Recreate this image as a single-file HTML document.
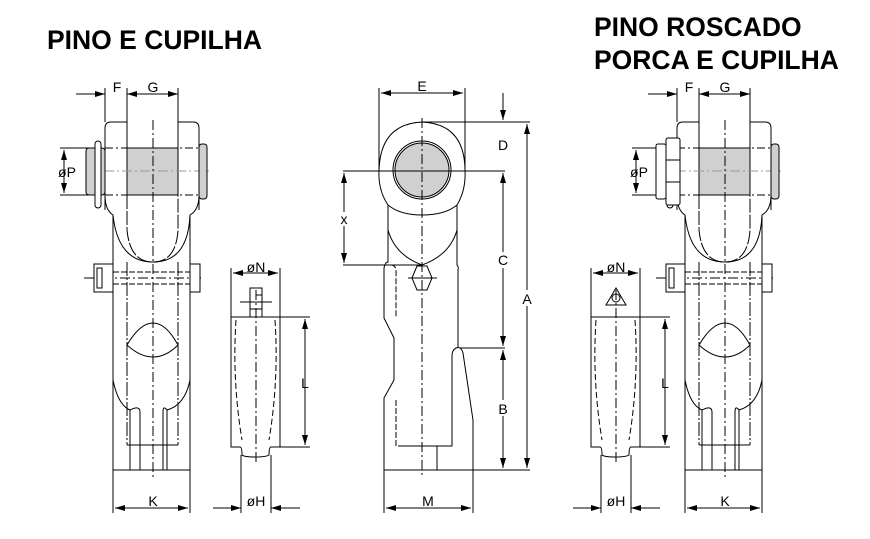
<!DOCTYPE html>
<html><head><meta charset="utf-8"><style>
html,body{margin:0;padding:0;background:#fff;width:870px;height:539px;overflow:hidden}
svg{display:block}
text{font-family:"Liberation Sans",Arial,sans-serif}
.t{font-weight:bold;font-size:26.5px;fill:#000}
.l{font-size:14px;fill:#000;text-anchor:middle}
</style></head><body>
<svg width="870" height="539" viewBox="0 0 870 539">
<defs>
<marker id="a" viewBox="0 0 10 6" refX="10" refY="3" markerWidth="10" markerHeight="6" orient="auto-start-reverse" markerUnits="userSpaceOnUse"><path d="M0,0L10,3L0,6z" fill="#000"/></marker>
<g id="shackle" fill="none" stroke="#000" stroke-width="1">
  <line x1="105" y1="88" x2="105" y2="122"/><line x1="127" y1="88" x2="127" y2="122"/><line x1="178" y1="88" x2="178" y2="122"/>
  <line x1="76" y1="94" x2="105" y2="94" marker-end="url(#a)"/>
  <line x1="127" y1="94" x2="178" y2="94" marker-start="url(#a)" marker-end="url(#a)"/>
  <line x1="60" y1="148" x2="100" y2="148"/><line x1="60" y1="195" x2="100" y2="195"/>
  <line x1="64" y1="150" x2="64" y2="193" marker-start="url(#a)" marker-end="url(#a)"/>
  <path d="M105,210 V128 Q105,122 111,122 H127 V195"/>
  <path d="M199,210 V128 Q199,122 193,122 H178 V195"/>
  <rect x="127" y="148" width="51" height="47" fill="#d0d0d0"/>
  <line x1="105" y1="148" x2="199" y2="148" stroke-dasharray="8,3,2,3"/>
  <line x1="105" y1="195" x2="199" y2="195" stroke-dasharray="8,3,2,3"/>
  <line x1="86" y1="171" x2="212" y2="171" stroke="#999" stroke-dasharray="10,3,2,3"/>
  <rect x="86" y="148" width="19" height="47" rx="3" fill="#d0d0d0"/>
  <rect x="199" y="144" width="8" height="55" rx="3" fill="#d0d0d0"/>
  <rect x="95" y="141" width="6" height="67" rx="3" fill="#fff"/>
  <path d="M105,195 Q105,210 113,215 V470 H190 V215 Q199,210 199,195"/>
  <path d="M113,215 Q118,262 153,262 Q188,262 190,215"/>
  <path d="M127,195 V230 Q130,262 153,262 Q176,262 178,230 V195" stroke-dasharray="14,2"/>
  <line x1="127" y1="262" x2="127" y2="445" stroke-dasharray="14,2,2,2"/>
  <line x1="178" y1="262" x2="178" y2="445" stroke-dasharray="14,2,2,2"/>
  <path d="M127,345 Q140,323 153,323 Q166,323 178,345 Q166,357 153,357 Q140,357 127,345"/>
  <path d="M113,380 Q118,405 130,410 V470"/><path d="M190,380 Q185,405 167,410 V470"/>
  <path d="M130,410 Q140,405 140,412 V470"/><path d="M167,410 Q163,405 163,412 V470"/>
  <line x1="127" y1="445" x2="178" y2="445"/>
  <line x1="84" y1="278" x2="201" y2="278" stroke-dasharray="10,3,2,3"/>
  <line x1="113" y1="272" x2="190" y2="272" stroke-dasharray="6,2"/><line x1="113" y1="284" x2="190" y2="284" stroke-dasharray="6,2"/>
  <rect x="94" y="264" width="19" height="28" fill="#fff"/><rect x="97" y="268" width="5" height="20"/>
  <rect x="190" y="264" width="10" height="28" fill="#fff"/>
  <line x1="153" y1="120" x2="153" y2="478" stroke-dasharray="10,3,2,3"/>
  <line x1="113" y1="470" x2="113" y2="513"/><line x1="190" y1="470" x2="190" y2="513"/>
  <line x1="115" y1="508" x2="188" y2="508" marker-start="url(#a)" marker-end="url(#a)"/>
</g>
<g id="pin" fill="none" stroke="#000" stroke-width="1">
  <line x1="231" y1="268" x2="231" y2="317"/><line x1="280" y1="268" x2="280" y2="317"/>
  <line x1="233" y1="273" x2="278" y2="273" marker-start="url(#a)" marker-end="url(#a)"/>
  <path d="M231,317 H280 V447 H271 Q269,447 269,455 Q266,457 256,457 Q244,457 242,455 Q242,447 240,447 H231 Z"/>
  <path d="M236,320 Q232,380 242,440" stroke-dasharray="6,3"/><path d="M275,320 Q279,380 269,440" stroke-dasharray="6,3"/>
  <line x1="256" y1="290" x2="256" y2="465" stroke-dasharray="10,3,2,3"/>
  <line x1="280" y1="317" x2="310" y2="317"/><line x1="280" y1="447" x2="310" y2="447"/>
  <line x1="305" y1="319" x2="305" y2="445" marker-start="url(#a)" marker-end="url(#a)"/>
  <line x1="241" y1="455" x2="241" y2="513"/><line x1="271" y1="455" x2="271" y2="513"/>
  <line x1="213" y1="508" x2="241" y2="508" marker-end="url(#a)"/>
  <line x1="300" y1="508" x2="271" y2="508" marker-end="url(#a)"/>
</g>
</defs>

<text class="t" x="47" y="49">PINO E CUPILHA</text>
<text class="t" x="594" y="36">PINO ROSCADO</text>
<text class="t" x="594" y="69">PORCA E CUPILHA</text>

<use href="#shackle"/>
<use href="#pin"/>
<g stroke="#000" fill="none"><rect x="250" y="288" width="12" height="29"/><line x1="240" y1="302" x2="272" y2="302"/><line x1="256" y1="295" x2="262" y2="295"/><line x1="250" y1="309" x2="262" y2="309"/></g>
<text class="l" x="117" y="92">F</text><text class="l" x="153" y="92">G</text>
<text class="l" x="67" y="177">øP</text>
<text class="l" x="153" y="506">K</text>
<text class="l" x="256" y="272">øN</text>
<text class="l" x="305" y="388">L</text>
<text class="l" x="256" y="506">øH</text>

<g transform="translate(572,0)"><use href="#shackle"/></g>
<rect x="656" y="144" width="10" height="55" rx="2" fill="#fff" stroke="#000"/>
<rect x="666" y="138" width="14" height="67" rx="2" fill="#fff" stroke="#000"/>
<line x1="666" y1="160" x2="680" y2="160" stroke="#000"/><line x1="666" y1="182" x2="680" y2="182" stroke="#000"/>
<g transform="translate(360,0)"><use href="#pin"/></g>
<g stroke="#000" fill="none"><path d="M606,305 L616,288 L626,305 Z"/><circle cx="616" cy="298" r="4"/></g>
<text class="l" x="689" y="92">F</text><text class="l" x="725" y="92">G</text>
<text class="l" x="639" y="177">øP</text>
<text class="l" x="725" y="506">K</text>
<text class="l" x="616" y="272">øN</text>
<text class="l" x="665" y="388">L</text>
<text class="l" x="616" y="506">øH</text>

<g fill="none" stroke="#000" stroke-width="1">
  <line x1="379" y1="88" x2="379" y2="171"/><line x1="465" y1="88" x2="465" y2="171"/>
  <line x1="381" y1="93" x2="463" y2="93" marker-start="url(#a)" marker-end="url(#a)"/>
  <path d="M388,205 Q378,190 379,171 Q380,124 422,122 Q465,124 465,171 Q466,190 457,205"/>
  <path d="M388,205 Q400,215 422,215 Q445,215 457,205"/>
  <circle cx="422" cy="170" r="29"/><circle cx="422" cy="170" r="27" fill="#d0d0d0"/>
  <path d="M388,205 V262 Q385,262 384,268 V318 L394,338 V380 L384,398 V470 H473 V420 L463,353 Q461,346 456,348 Q452,350 452,356 V446 H398"/>
  <path d="M388,230 Q395,255 422,265 Q450,255 457,230"/>
  <path d="M457,205 V265 Q459,267 458,270 V348" />
  <path d="M391,265 Q397,265 396,275 V318" stroke-dasharray="6,2"/>
  <path d="M396,400 V446 H452" stroke-dasharray="6,2"/>
  <line x1="437" y1="446" x2="437" y2="470"/>
  <path d="M412,278 L417,266 H427 L432,278 L427,290 H417 Z" fill="#fff"/>
  <line x1="408" y1="278" x2="437" y2="278"/>
  <line x1="422" y1="118" x2="422" y2="478" stroke-dasharray="10,3,2,3"/>
  <line x1="343" y1="171" x2="505" y2="171"/>
  <line x1="343" y1="265" x2="422" y2="265"/>
  <line x1="344" y1="173" x2="344" y2="263" marker-start="url(#a)" marker-end="url(#a)"/>
  <line x1="422" y1="122" x2="530" y2="122"/>
  <line x1="460" y1="348" x2="505" y2="348"/>
  <line x1="473" y1="470" x2="530" y2="470"/>
  <line x1="503" y1="93" x2="503" y2="120" marker-end="url(#a)"/>
  <line x1="503" y1="173" x2="503" y2="346" marker-start="url(#a)" marker-end="url(#a)"/>
  <line x1="503" y1="350" x2="503" y2="468" marker-start="url(#a)" marker-end="url(#a)"/>
  <line x1="527" y1="124" x2="527" y2="468" marker-start="url(#a)" marker-end="url(#a)"/>
  <line x1="384" y1="470" x2="384" y2="513"/><line x1="473" y1="470" x2="473" y2="513"/>
  <line x1="386" y1="508" x2="471" y2="508" marker-start="url(#a)" marker-end="url(#a)"/>
</g>
<g fill="#fff"><rect x="497" y="137" width="12" height="16"/><rect x="497" y="252" width="12" height="16"/><rect x="497" y="400" width="12" height="16"/><rect x="521" y="290" width="12" height="16"/><rect x="339" y="212" width="10" height="14"/></g>
<text class="l" x="422" y="91">E</text>
<text class="l" x="503" y="150">D</text>
<text class="l" x="503" y="265">C</text>
<text class="l" x="503" y="414">B</text>
<text class="l" x="527" y="304">A</text>
<text class="l" x="344" y="224">x</text>
<text class="l" x="428" y="506">M</text>
</svg>
</body></html>
